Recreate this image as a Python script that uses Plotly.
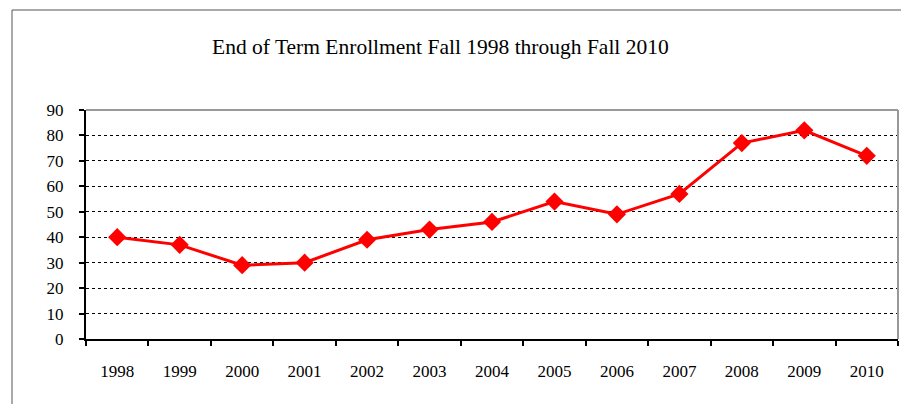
import plotly.graph_objects as go

years = ["1998", "1999", "2000", "2001", "2002", "2003", "2004", "2005",
         "2006", "2007", "2008", "2009", "2010"]
enrollment = [40, 37, 29, 30, 39, 43, 46, 54, 49, 57, 77, 82, 72]
title_text = "End of Term Enrollment Fall 1998 through Fall 2010"

OFF = 8  # page body margin
W, H = 909 - OFF, 404 - OFF
L, T = 86 - OFF, 110 - OFF
R = W - (898 - OFF)
B = H - (339 - OFF)
pw, ph = W - L - R, H - T - B

def px(x):
    return (x - OFF - L) / pw

def py(y):
    return (H - B - (y - OFF)) / ph

fig = go.Figure()
fig.add_trace(go.Scatter(
    x=years, y=enrollment, mode="lines+markers",
    line=dict(color="#ff0000", width=3),
    marker=dict(symbol="diamond", size=14, color="#ff0000"),
    showlegend=False, cliponaxis=False,
))

fam = "Liberation Serif, Times New Roman, serif"
font = dict(family=fam, size=17, color="black")

fig.update_layout(
    width=W, height=H,
    margin=dict(l=L, r=R, t=T, b=B),
    paper_bgcolor="white", plot_bgcolor="white",
    font=font,
    annotations=[dict(
        text=title_text, xref="paper", yref="paper",
        x=px(440), y=py(47), xanchor="center", yanchor="middle",
        showarrow=False, font=dict(family=fam, size=21.5, color="black"),
    )],
    shapes=[
        dict(type="rect", xref="paper", yref="paper",
             x0=px(12), x1=px(940), y0=py(440), y1=py(10),
             line=dict(color="#555555", width=1), layer="below"),
        dict(type="line", xref="paper", yref="paper",
             x0=0, x1=1, y0=1, y1=1, line=dict(color="#999999", width=2)),
        dict(type="line", xref="paper", yref="paper",
             x0=1, x1=1, y0=0, y1=1, line=dict(color="#999999", width=2)),
    ],
)

fig.update_xaxes(
    type="category", range=[-0.5, len(years) - 0.5],
    tickson="boundaries", ticks="outside", ticklen=5,
    tickcolor="black", tickwidth=1.5,
    showline=True, linecolor="black", linewidth=2,
    showgrid=False, ticklabelstandoff=16, tickfont=font,
)
fig.update_yaxes(
    range=[0, 90], dtick=10, ticks="outside", ticklen=5,
    tickcolor="black", tickwidth=1.5,
    showline=True, linecolor="black", linewidth=2,
    showgrid=True, gridcolor="black", gridwidth=1, griddash="dot",
    zeroline=False, tickfont=font, ticklabelstandoff=12,
)

fig.write_html("out.html")
